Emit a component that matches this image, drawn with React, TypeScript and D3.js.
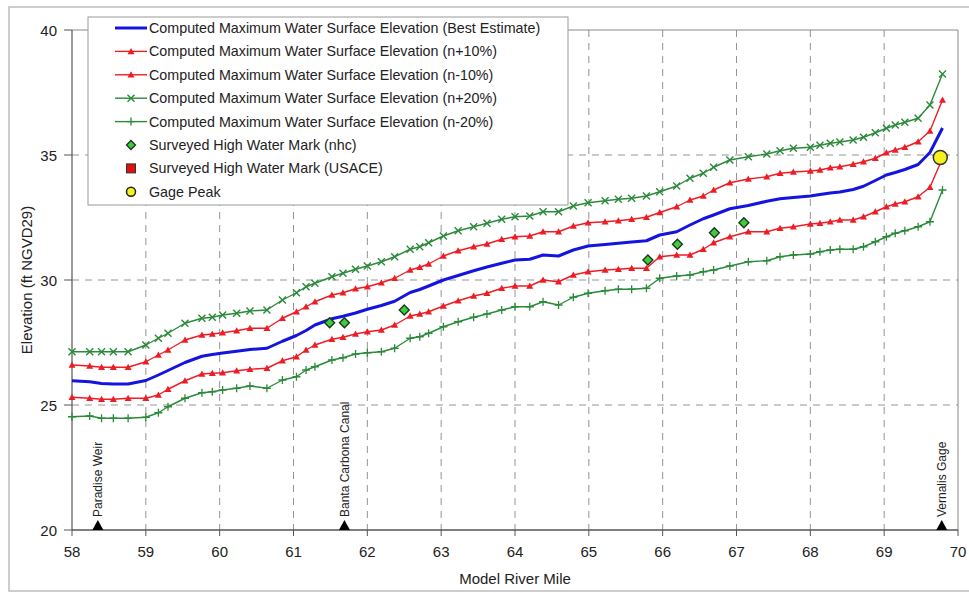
import React from "react";
import * as d3 from "d3";

const miles = [
  58.0, 58.24, 58.4, 58.56, 58.76, 59.0, 59.17, 59.3, 59.53, 59.76, 59.9,
  60.04, 60.23, 60.41, 60.64, 60.85, 61.04, 61.17, 61.29, 61.52, 61.67, 61.84,
  62.0, 62.19, 62.37, 62.58, 62.71, 62.83, 63.03, 63.23, 63.44, 63.62, 63.82,
  64.0, 64.2, 64.38, 64.59, 64.79, 64.99, 65.22, 65.4, 65.58, 65.78, 65.96,
  66.19, 66.37, 66.55, 66.69, 66.91, 67.16, 67.41, 67.59, 67.77, 68.0, 68.13,
  68.27, 68.4, 68.58, 68.72, 68.88, 69.03, 69.15, 69.28, 69.46, 69.62, 69.79,
];

const bestEstimate = [
  25.97, 25.93, 25.86, 25.84, 25.84, 25.98, 26.2, 26.38, 26.7, 26.95, 27.02,
  27.08, 27.15, 27.22, 27.27, 27.55, 27.78, 27.98, 28.2, 28.45, 28.55, 28.68,
  28.83, 28.98, 29.15, 29.5, 29.62, 29.76, 30.0, 30.18, 30.37, 30.52, 30.67,
  30.8, 30.83, 31.0, 30.96, 31.2, 31.36, 31.42, 31.47, 31.52, 31.57, 31.8,
  31.93, 32.2, 32.45, 32.6, 32.85, 32.98, 33.15, 33.25, 33.3, 33.36, 33.42,
  33.48, 33.52, 33.62, 33.75, 33.98, 34.2, 34.3, 34.42, 34.62, 35.1, 36.08,
];

const nPlus10 = [
  26.6, 26.56, 26.51, 26.51, 26.51, 26.73, 27.0, 27.2, 27.6, 27.8, 27.84,
  27.89, 27.97, 28.07, 28.07, 28.47, 28.73, 28.93, 29.13, 29.4, 29.49, 29.65,
  29.73, 29.89, 30.07, 30.4, 30.51, 30.64, 30.96, 31.17, 31.33, 31.44, 31.63,
  31.73, 31.76, 31.93, 31.93, 32.16, 32.29, 32.33, 32.37, 32.43, 32.51, 32.7,
  32.93, 33.2, 33.36, 33.6, 33.89, 34.04, 34.13, 34.27, 34.32, 34.36, 34.4,
  34.49, 34.53, 34.63, 34.73, 34.87, 35.09, 35.2, 35.31, 35.53, 35.96, 37.2,
];

const nMinus10 = [
  25.31, 25.27, 25.23, 25.23, 25.27, 25.27, 25.4, 25.63, 25.97, 26.24, 26.27,
  26.29, 26.37, 26.43, 26.47, 26.77, 26.93, 27.2, 27.4, 27.63, 27.71, 27.84,
  27.93, 28.0, 28.2, 28.56, 28.64, 28.73, 28.96, 29.17, 29.36, 29.47, 29.67,
  29.76, 29.76, 30.0, 29.93, 30.2, 30.33, 30.4, 30.43, 30.47, 30.47, 30.93,
  31.0, 31.0, 31.23, 31.49, 31.73, 31.93, 31.93, 32.07, 32.13, 32.24, 32.27,
  32.33, 32.4, 32.4, 32.53, 32.73, 32.93, 33.04, 33.13, 33.33, 33.71, 34.87,
];

const nPlus20 = [
  27.13, 27.13, 27.13, 27.13, 27.13, 27.4, 27.67, 27.87, 28.27, 28.47, 28.51,
  28.6, 28.67, 28.76, 28.8, 29.2, 29.49, 29.73, 29.87, 30.13, 30.27, 30.43,
  30.56, 30.73, 30.93, 31.23, 31.33, 31.49, 31.76, 31.97, 32.13, 32.27, 32.43,
  32.53, 32.56, 32.73, 32.73, 32.96, 33.09, 33.17, 33.23, 33.27, 33.36, 33.53,
  33.76, 34.07, 34.27, 34.51, 34.8, 34.93, 35.04, 35.17, 35.27, 35.31, 35.39,
  35.47, 35.52, 35.6, 35.71, 35.89, 36.07, 36.2, 36.31, 36.47, 37.0, 38.24,
];

const nMinus20 = [
  24.53, 24.56, 24.47, 24.47, 24.47, 24.51, 24.69, 24.93, 25.27, 25.49, 25.53,
  25.6, 25.67, 25.76, 25.67, 26.0, 26.13, 26.4, 26.53, 26.8, 26.89, 27.04,
  27.09, 27.13, 27.27, 27.67, 27.73, 27.87, 28.13, 28.33, 28.51, 28.64, 28.8,
  28.93, 28.93, 29.13, 29.0, 29.31, 29.47, 29.57, 29.63, 29.63, 29.67, 30.07,
  30.16, 30.2, 30.33, 30.4, 30.56, 30.73, 30.77, 30.93, 31.0, 31.04, 31.13,
  31.2, 31.23, 31.23, 31.33, 31.53, 31.73, 31.87, 31.97, 32.13, 32.33, 33.6,
];

const nhcMiles = [61.49, 61.69, 62.5, 65.8, 66.2, 66.7, 67.1];
const nhcElev = [28.29, 28.29, 28.8, 30.8, 31.43, 31.89, 32.29];

const gageMile = 69.76;
const gageElev = 34.9;

const landmarkNames = ["Paradise Weir", "Banta Carbona Canal", "Vernalis Gage"];
const landmarkMiles = [58.35, 61.69, 69.78];

const xTicks = [58, 59, 60, 61, 62, 63, 64, 65, 66, 67, 68, 69, 70];
const yTicks = [20, 25, 30, 35, 40];

const legendLabels = [
  "Computed Maximum Water Surface Elevation (Best Estimate)",
  "Computed Maximum Water Surface Elevation (n+10%)",
  "Computed Maximum Water Surface Elevation (n-10%)",
  "Computed Maximum Water Surface Elevation (n+20%)",
  "Computed Maximum Water Surface Elevation (n-20%)",
  "Surveyed High Water Mark (nhc)",
  "Surveyed High Water Mark (USACE)",
  "Gage Peak",
];

const BLUE = "#1414e0";
const RED = "#ee1c24";
const GREEN = "#2b8a3a";
const FONT = "Liberation Sans, Arial, sans-serif";

const W = 969;
const H = 593;

const x = d3.scaleLinear().domain([58, 70]).range([72, 958]);
const y = d3.scaleLinear().domain([20, 40]).range([530, 30]);

const Triangle = ({ cx, cy, s = 3.5, fill }) => (
  <path
    d={`M${cx},${cy - s}L${cx + s},${cy + s * 0.8}L${cx - s},${cy + s * 0.8}Z`}
    fill={fill}
  />
);

const Cross = ({ cx, cy, s = 3.5, stroke }) => (
  <path
    d={`M${cx - s},${cy - s}L${cx + s},${cy + s}M${cx - s},${cy + s}L${cx + s},${cy - s}`}
    stroke={stroke}
    strokeWidth={1.4}
  />
);

const Plus = ({ cx, cy, s = 4, stroke }) => (
  <path
    d={`M${cx},${cy - s}L${cx},${cy + s}M${cx - s},${cy}L${cx + s},${cy}`}
    stroke={stroke}
    strokeWidth={1.3}
  />
);

const Diamond = ({ cx, cy, s = 5 }) => (
  <path
    d={`M${cx},${cy - s}L${cx + s},${cy}L${cx},${cy + s}L${cx - s},${cy}Z`}
    fill="#3ccc3c"
    stroke="#1a331a"
    strokeWidth={1.3}
  />
);

export default function App() {
  const line = d3
    .line<number>()
    .x((_, i) => x(miles[i]))
    .y((d) => y(d));

  const series = [
    { values: nMinus20, color: GREEN, width: 1.4, marker: "plus" },
    { values: nPlus20, color: GREEN, width: 1.4, marker: "cross" },
    { values: nMinus10, color: RED, width: 1.4, marker: "tri" },
    { values: nPlus10, color: RED, width: 1.4, marker: "tri" },
    { values: bestEstimate, color: BLUE, width: 3, marker: null },
  ];

  const drawMarker = (kind, cx, cy, color, key) => {
    if (kind === "tri") return <Triangle key={key} cx={cx} cy={cy} fill={color} />;
    if (kind === "cross") return <Cross key={key} cx={cx} cy={cy} stroke={color} />;
    if (kind === "plus") return <Plus key={key} cx={cx} cy={cy} stroke={color} />;
    return null;
  };

  const legendX = 88;
  const legendY = 17;
  const rowH = 23.4;

  return (
    <svg
      width={W}
      height={H}
      style={{ position: "absolute", left: 0, top: 0, background: "#fff" }}
      fontFamily={FONT}
    >
      <rect x={9} y={7} width={970} height={584} fill="none" stroke="#bdbdbd" strokeWidth={1.5} />

      {/* grid */}
      {xTicks.slice(1, -1).map((t) => (
        <line key={"gx" + t} x1={x(t)} x2={x(t)} y1={y(40)} y2={y(20)} stroke="#888" strokeDasharray="7,6" strokeWidth={0.9} />
      ))}
      {yTicks.slice(1, -1).map((t) => (
        <line key={"gy" + t} x1={x(58)} x2={x(70)} y1={y(t)} y2={y(t)} stroke="#888" strokeDasharray="7,6" strokeWidth={0.9} />
      ))}

      {/* frame */}
      <line x1={x(58)} x2={x(70)} y1={y(40)} y2={y(40)} stroke="#888" strokeWidth={1} />
      <line x1={x(70)} x2={x(70)} y1={y(40)} y2={y(20)} stroke="#888" strokeWidth={1} />
      <line x1={x(58)} x2={x(58)} y1={y(40)} y2={y(20)} stroke="#555" strokeWidth={1.2} />
      <line x1={x(58)} x2={x(70)} y1={y(20)} y2={y(20)} stroke="#555" strokeWidth={1.6} />

      {/* ticks */}
      {yTicks.map((t) => (
        <g key={"yt" + t}>
          <line x1={x(58) - 8} x2={x(58)} y1={y(t)} y2={y(t)} stroke="#555" />
          <text x={x(58) - 15} y={y(t) + 5.5} textAnchor="end" fontSize={15} fill="#222">
            {t}
          </text>
        </g>
      ))}
      {xTicks.map((t) => (
        <g key={"xt" + t}>
          <line x1={x(t)} x2={x(t)} y1={y(20)} y2={y(20) + 6} stroke="#555" />
          <text x={x(t)} y={y(20) + 27} textAnchor="middle" fontSize={15} fill="#222">
            {t}
          </text>
        </g>
      ))}

      {/* series */}
      {series.map((s, si) => (
        <g key={"s" + si}>
          <path d={line(s.values)} fill="none" stroke={s.color} strokeWidth={s.width} strokeLinejoin="round" />
          {s.marker &&
            s.values.map((v, i) => drawMarker(s.marker, x(miles[i]), y(v), s.color, si + "-" + i))}
        </g>
      ))}

      {nhcMiles.map((m, i) => (
        <Diamond key={"nhc" + i} cx={x(m)} cy={y(nhcElev[i])} />
      ))}
      <circle cx={x(gageMile)} cy={y(gageElev)} r={7} fill="#f5f01e" stroke="#333" strokeWidth={1.5} />

      {/* landmarks */}
      {landmarkMiles.map((m, i) => (
        <g key={"lm" + i}>
          <path
            d={`M${x(m)},${y(20) - 10}L${x(m) + 5.5},${y(20)}L${x(m) - 5.5},${y(20)}Z`}
            fill="#000"
          />
          <text
            transform={`translate(${x(m) + 4.5},${y(20) - 13}) rotate(-90)`}
            fontSize={12}
            fill="#222"
          >
            {landmarkNames[i]}
          </text>
        </g>
      ))}

      {/* axis titles */}
      <text x={(x(58) + x(70)) / 2} y={584} textAnchor="middle" fontSize={15} fill="#222">
        Model River Mile
      </text>
      <text transform={`translate(32,${y(30)}) rotate(-90)`} textAnchor="middle" fontSize={15} fill="#222">
        Elevation (ft NGVD29)
      </text>

      {/* legend */}
      <rect x={legendX} y={legendY} width={480} height={188} fill="#fff" stroke="#999" strokeWidth={1} />
      {legendLabels.map((lab, i) => {
        const cy = legendY + 11 + i * rowH;
        const mx = 131;
        let sample = null;
        if (i === 0) sample = <line x1={115} x2={147} y1={cy} y2={cy} stroke={BLUE} strokeWidth={3} />;
        if (i >= 1 && i <= 4) {
          const c = i <= 2 ? RED : GREEN;
          const kind = i <= 2 ? "tri" : i === 3 ? "cross" : "plus";
          sample = (
            <g>
              <line x1={115} x2={147} y1={cy} y2={cy} stroke={c} strokeWidth={1.4} />
              {drawMarker(kind, mx, cy, c, "lg" + i)}
            </g>
          );
        }
        if (i === 5) sample = <Diamond cx={mx} cy={cy} s={4.5} />;
        if (i === 6) sample = <rect x={mx - 4.5} y={cy - 4.5} width={9} height={9} fill="#e01010" stroke="#333" strokeWidth={1} />;
        if (i === 7) sample = <circle cx={mx} cy={cy} r={4.5} fill="#f5f01e" stroke="#222" strokeWidth={1.5} />;
        return (
          <g key={"lg" + i}>
            {sample}
            <text x={149} y={cy + 5} fontSize={14.3} fill="#222">
              {lab}
            </text>
          </g>
        );
      })}
    </svg>
  );
}
